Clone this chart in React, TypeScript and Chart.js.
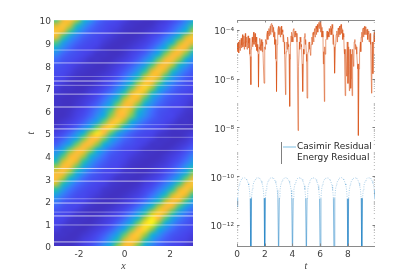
import React, { useEffect, useRef } from "react";
import { Chart, registerables } from "chart.js";
Chart.register(...registerables);

// ---- left panel data ----
const fieldX = [-3, -2.7, -2.4, -2.1, -1.8, -1.5, -1.2, -0.9, -0.6, -0.3, 0, 0.3, 0.6, 0.9, 1.2, 1.5, 1.8, 2.1, 2.4, 2.7, 3];
const fieldT = [0, 0.25, 0.5, 0.75, 1, 1.25, 1.5, 1.75, 2, 2.25, 2.5, 2.75, 3, 3.25, 3.5, 3.75, 4, 4.25, 4.5, 4.75, 5, 5.25, 5.5, 5.75, 6, 6.25, 6.5, 6.75, 7, 7.25, 7.5, 7.75, 8, 8.25, 8.5, 8.75, 9, 9.25, 9.5, 9.75, 10];
const fieldRows = [
  [4,4,4,6,9,12,18,28,46,72,91,89,66,41,26,18,14,11,10,7,5],
  [5,4,4,5,8,10,14,21,34,55,82,93,82,55,34,21,15,12,10,9,6],
  [5,5,4,4,6,8,11,16,25,40,64,88,94,74,47,29,19,14,12,10,8],
  [8,5,5,4,4,6,8,11,16,26,41,66,92,96,72,46,28,19,14,12,10],
  [10,8,5,5,4,4,6,8,11,17,27,43,68,96,99,70,44,27,18,14,11],
  [11,10,7,5,5,4,5,7,9,12,18,29,47,74,98,92,64,40,25,17,13],
  [13,11,10,7,5,4,4,5,7,9,13,19,31,50,77,94,86,62,38,24,16],
  [17,13,11,10,7,5,4,4,5,7,9,13,19,31,50,77,92,86,60,38,24],
  [24,16,13,11,10,7,5,4,4,5,7,9,13,19,31,50,78,92,85,60,37],
  [36,23,16,12,11,9,7,5,4,4,5,7,9,13,20,33,53,80,93,83,57],
  [55,34,21,15,12,10,9,6,5,4,4,5,7,10,14,22,35,57,83,93,80],
  [80,52,32,20,15,12,10,9,6,5,4,4,5,8,10,15,23,37,60,85,93],
  [92,76,49,30,19,14,12,10,8,5,5,4,4,6,8,11,16,25,40,64,88],
  [89,91,71,45,28,18,14,11,10,8,5,5,4,4,6,8,12,17,27,43,68],
  [74,92,88,64,40,25,17,13,11,10,7,5,4,4,5,7,9,13,19,30,49],
  [53,80,93,83,57,35,22,16,12,11,9,6,5,4,4,5,7,10,14,21,34],
  [38,61,86,92,77,50,31,20,14,12,10,8,6,5,4,4,6,8,11,16,25],
  [27,42,67,89,91,71,45,28,18,14,11,10,8,5,5,4,4,6,8,12,17],
  [16,26,41,66,89,91,72,46,28,19,14,12,10,8,5,5,4,4,6,8,12],
  [12,17,27,43,68,92,92,68,43,27,18,14,11,10,8,5,5,4,4,6,9],
  [9,12,18,29,47,74,97,92,64,40,25,17,13,11,10,7,5,4,4,5,7],
  [6,8,11,16,26,41,66,92,95,72,46,28,18,14,12,10,8,5,5,4,4],
  [4,6,8,11,16,26,40,65,90,94,73,46,28,19,14,12,10,8,5,5,4],
  [4,4,6,9,12,18,28,45,71,91,89,67,42,27,18,13,11,10,7,5,4],
  [4,4,5,8,10,15,23,37,60,85,93,78,51,31,20,14,12,10,9,6,5],
  [5,4,4,6,8,12,17,27,43,68,90,90,68,43,27,18,14,11,10,8,5],
  [5,4,4,5,7,9,13,20,31,51,78,93,85,60,37,23,16,13,11,9,7],
  [6,5,4,4,5,8,10,15,22,36,58,84,94,80,52,32,20,15,12,10,9],
  [8,5,5,4,4,6,8,11,16,25,40,64,90,95,74,47,29,19,14,12,10],
  [10,8,5,4,4,4,6,9,12,18,28,45,71,93,91,66,41,26,18,13,11],
  [11,10,7,5,4,4,5,7,9,13,20,31,51,78,93,85,60,37,23,16,13],
  [12,11,9,6,5,4,4,5,7,10,15,22,35,57,83,93,80,53,33,21,15],
  [14,12,10,8,6,5,4,4,6,8,11,16,24,38,62,87,92,76,49,30,19],
  [19,14,12,10,8,5,5,4,4,6,8,11,16,26,41,66,89,91,72,46,28],
  [27,18,14,12,10,8,5,5,4,4,6,9,12,17,28,44,70,90,90,68,43],
  [41,26,18,13,11,10,8,5,4,4,5,7,9,12,18,29,47,74,92,88,64],
  [62,38,24,17,13,11,10,7,5,4,4,5,7,9,13,19,31,50,77,92,86],
  [85,59,36,23,16,13,11,9,7,5,4,4,5,7,10,14,21,33,53,80,93],
  [93,85,60,37,23,16,13,11,9,7,5,4,4,5,7,9,13,19,30,49,76],
  [83,93,80,53,33,21,15,12,10,9,6,5,4,4,5,8,10,15,22,36,58],
  [62,87,92,76,49,30,19,14,12,10,8,5,5,4,4,6,8,11,16,25,40],
];
const seamTimes = [10, 9.42, 8.67, 8.1, 7.5, 7.3, 7.11, 6.72, 6.15, 5.37, 5.18, 4.81, 4.23, 3.43, 3.24, 2.87, 2.09, 1.9, 1.5, 1.33, 0.93, 0.18];
const seamAlphas = [0.4, 0.7, 0.45, 0.6, 0.3, 0.7, 0.4, 0.6, 0.7, 0.3, 0.7, 0.3, 0.35, 0.7, 0.35, 0.65, 0.35, 0.7, 0.35, 0.7, 0.45, 0.7];
const fieldXTicks = [-2, 0, 2];
const fieldTTicks = [0, 1, 2, 3, 4, 5, 6, 7, 8, 9, 10];

// ---- right panel data ----
const residualXTicks = [0, 2, 4, 6, 8];
const residualDecades = [-13, -12, -11, -10, -9, -8, -7, -6, -5, -4];
const labelledDecades = [-12, -10, -8, -6, -4];
const minorMultipliers = [1, 2, 3, 4, 5, 6, 7, 8, 9];
const sampleStep = 0.05;
const casimirLog = [
  -11.25,-10.9,-10.56,-10.38,-10.28,-10.2,-10.14,-10.1,-10.08,-10.07,-10.07,-10.07,-10.08,-10.1,-10.14,-10.2,-10.28,-10.38,-10.56,-10.92,
  -13.6,-10.88,-10.55,-10.38,-10.27,-10.2,-10.14,-10.1,-10.08,-10.07,-10.06,-10.07,-10.08,-10.1,-10.14,-10.2,-10.28,-10.38,-10.57,-10.9,
  -13.6,-10.9,-10.56,-10.39,-10.28,-10.2,-10.15,-10.1,-10.08,-10.07,-10.07,-10.07,-10.08,-10.1,-10.13,-10.2,-10.27,-10.38,-10.56,-10.94,
  -13.6,-10.9,-10.57,-10.38,-10.28,-10.21,-10.14,-10.11,-10.08,-10.07,-10.06,-10.07,-10.08,-10.1,-10.14,-10.2,-10.28,-10.39,-10.56,-10.9,
  -13.6,-10.92,-10.56,-10.38,-10.28,-10.2,-10.14,-10.1,-10.08,-10.07,-10.07,-10.07,-10.09,-10.1,-10.14,-10.2,-10.28,-10.38,-10.56,-10.9,
  -13.6,-10.9,-10.56,-10.38,-10.29,-10.2,-10.14,-10.1,-10.08,-10.06,-10.07,-10.07,-10.08,-10.1,-10.14,-10.21,-10.28,-10.38,-10.57,-10.92,
  -13.6,-10.91,-10.55,-10.38,-10.28,-10.2,-10.14,-10.1,-10.08,-10.07,-10.07,-10.07,-10.08,-10.11,-10.14,-10.2,-10.28,-10.38,-10.56,-10.9,
  -13.6,-10.9,-10.56,-10.39,-10.28,-10.2,-10.15,-10.1,-10.08,-10.07,-10.07,-10.06,-10.08,-10.1,-10.14,-10.2,-10.29,-10.38,-10.56,-10.93,
  -13.6,-10.9,-10.56,-10.38,-10.28,-10.2,-10.14,-10.1,-10.09,-10.07,-10.07,-10.07,-10.08,-10.1,-10.14,-10.2,-10.28,-10.39,-10.55,-10.9,
  -13.6,-10.92,-10.57,-10.38,-10.28,-10.2,-10.14,-10.1,-10.08,-10.07,-10.07,-10.07,-10.08,-10.1,-10.15,-10.2,-10.28,-10.38,-10.56,-10.95,
];
const energyLog = [
  -4.55,-4.8,-4.5,-4.72,-4.42,-4.7,-4.35,-4.62,-4.2,-4.55,-4.25,-4.6,-4.15,-4.5,-4.3,-4.65,-4.25,-4.55,-4.35,-5.1,
  -6.25,-4.7,-4.3,-4.5,-4.1,-4.45,-4.15,-4.5,-4.3,-4.6,-4.9,-6.35,-4.7,-4.35,-4.6,-4.4,-4.65,-4.5,-5.4,-6.19,
  -4.7,-4.4,-4.5,-4.2,-4.05,-4.15,-3.95,-4.05,-3.85,-3.8,-3.74,-3.8,-3.9,-4.0,-4.1,-4.4,-5.2,-6.53,-4.6,-4.0,
  -3.86,-4.0,-3.9,-4.05,-3.85,-4.0,-4.1,-4.2,-4.5,-5.0,-6.66,-4.9,-4.5,-4.3,-4.6,-5.0,-7.14,-4.7,-4.25,-4.1,
  -4.3,-4.0,-3.95,-4.1,-4.05,-4.2,-4.15,-5.4,-8.13,-5.5,-4.5,-4.3,-4.5,-4.6,-5.5,-6.53,-4.8,-4.3,-4.15,-4.4,
  -5.0,-6.8,-5.0,-4.6,-4.5,-4.6,-5.05,-4.6,-4.3,-4.15,-4.1,-4.2,-3.95,-4.05,-3.85,-3.95,-3.78,-3.85,-3.7,-3.75,
  -3.62,-3.75,-3.9,-4.05,-4.3,-4.9,-6.94,-5.0,-4.4,-4.15,-4.05,-4.3,-4.1,-3.95,-4.1,-3.85,-3.95,-3.78,-3.95,-4.2,
  -4.7,-5.78,-4.6,-4.2,-4.05,-4.25,-3.93,-4.0,-3.85,-3.9,-3.78,-3.9,-4.0,-4.15,-4.3,-5.0,-6.7,-4.8,-5.9,-4.5,
  -6.2,-4.7,-6.5,-4.8,-6.4,-5.0,-6.7,-4.8,-5.5,-4.5,-4.4,-4.6,-4.7,-5.0,-5.6,-8.33,-5.6,-4.9,-4.5,-4.3,
  -4.1,-4.0,-3.93,-3.95,-3.86,-3.9,-3.88,-4.0,-3.98,-4.15,-4.05,-4.25,-4.15,-4.6,-6.6,-4.5,-5.8,-4.25,-4.1,-4.0,
];
const energyLowerLog = [
  -4.9,-4.95,-4.85,-4.75,-4.7,-4.8,-4.7,-4.8,-4.75,-5.0,
  -4.8,-4.7,-4.6,-4.7,-4.85,-5.0,-4.8,-4.85,-4.9,-5.4,
  -4.8,-4.6,-4.4,-4.25,-4.2,-4.1,-4.3,-4.6,-5.3,-4.5,
  -4.2,-4.3,-4.2,-4.5,-4.8,-5.2,-4.8,-4.7,-5.2,-4.5,
  -4.5,-4.3,-4.3,-4.5,-5.5,-4.8,-4.7,-5.4,-5.0,-4.6,
  -5.3,-4.9,-4.8,-4.9,-4.6,-4.5,-4.3,-4.2,-4.1,-3.95,
  -4.1,-4.3,-5.4,-4.7,-4.4,-4.4,-4.3,-4.2,-4.2,-4.6,
  -5.2,-4.5,-4.5,-4.3,-4.2,-4.15,-4.4,-4.8,-5.5,-5.3,
  -5.8,-5.5,-6.0,-5.6,-5.2,-4.8,-5.0,-5.4,-5.6,-4.9,
  -4.5,-4.3,-4.2,-4.2,-4.4,-4.5,-4.6,-5.0,-5.0,-4.5,
];
const seriesNames = ["Casimir Residual", "Energy Residual"];

// ---- styling ----
const parula: [number, number, number][] = [
  [62, 38, 168], [71, 68, 235], [62, 111, 255], [39, 150, 235], [18, 177, 214],
  [44, 195, 160], [113, 204, 100], [171, 199, 57], [230, 187, 50], [252, 190, 60], [249, 251, 21],
];
const inkColor = "#404040";
const frameColor = "#8a8a8a";
const tickFont = { family: "'DejaVu Sans'", size: 9 };
const titleFont = { family: "'Liberation Serif'", size: 10, style: "italic" as const };

const superscripts: Record<string, string> = { "-": "⁻", "0": "⁰", "1": "¹", "2": "²", "3": "³", "4": "⁴", "5": "⁵", "6": "⁶", "7": "⁷", "8": "⁸", "9": "⁹" };
const powerLabel = (e: number) => "10" + String(e).split("").map((c) => superscripts[c]).join("");

function colorAt(v: number): [number, number, number] {
  const shaped = v < 0.3 ? v : 0.3 + 0.7 * Math.pow((v - 0.3) / 0.7, 1.3);
  const p = Math.max(0, Math.min(0.9999, shaped)) * (parula.length - 1);
  const i = Math.floor(p), f = p - i;
  const a = parula[i], b = parula[i + 1];
  return [a[0] + (b[0] - a[0]) * f, a[1] + (b[1] - a[1]) * f, a[2] + (b[2] - a[2]) * f];
}

const fieldPlugin = {
  id: "field",
  beforeDatasetsDraw(chart: any) {
    const cols = fieldX.length, rows = fieldT.length;
    const off = document.createElement("canvas");
    off.width = cols; off.height = rows;
    const octx = off.getContext("2d")!;
    const img = octx.createImageData(cols, rows);
    fieldRows.forEach((row, r) => row.forEach((v, c) => {
      const [R, G, B] = colorAt(v / 100);
      const k = ((rows - 1 - r) * cols + c) * 4;
      img.data[k] = R; img.data[k + 1] = G; img.data[k + 2] = B; img.data[k + 3] = 255;
    }));
    octx.putImageData(img, 0, 0);
    const { ctx, scales: { x, y }, chartArea: a } = chart;
    const dx = (fieldX[1] - fieldX[0]) / 2, dt = (fieldT[1] - fieldT[0]) / 2;
    const left = x.getPixelForValue(fieldX[0] - dx), right = x.getPixelForValue(fieldX[cols - 1] + dx);
    const top = y.getPixelForValue(fieldT[rows - 1] + dt), bottom = y.getPixelForValue(fieldT[0] - dt);
    ctx.save();
    ctx.beginPath(); ctx.rect(a.left, a.top, a.right - a.left, a.bottom - a.top); ctx.clip();
    ctx.imageSmoothingEnabled = true;
    ctx.imageSmoothingQuality = "high";
    ctx.drawImage(off, left, top, right - left, bottom - top);
    ctx.restore();
  },
};

const framePlugin = {
  id: "frame",
  afterDatasetsDraw(chart: any) {
    const { ctx, scales: { x, y }, chartArea: a } = chart;
    ctx.save();
    ctx.strokeStyle = frameColor;
    ctx.lineWidth = 1;
    ctx.beginPath();
    ctx.moveTo(a.left, a.top + 0.5); ctx.lineTo(a.right, a.top + 0.5);
    ctx.moveTo(a.left, a.bottom + 0.5); ctx.lineTo(a.right, a.bottom + 0.5);
    x.ticks.forEach((t: any) => {
      const px = Math.round(x.getPixelForValue(t.value)) + 0.5;
      ctx.moveTo(px, a.top); ctx.lineTo(px, a.top + 2.5);
      ctx.moveTo(px, a.bottom); ctx.lineTo(px, a.bottom - 2.5);
    });
    ctx.stroke();
    y.ticks.forEach((t: any) => {
      const py = Math.round(y.getPixelForValue(t.value)) + 0.5;
      const major = t.major;
      ctx.strokeStyle = major ? "rgba(110,110,110,0.9)" : "rgba(140,140,140,0.55)";
      const len = major ? 2.5 : 1.2;
      ctx.beginPath();
      ctx.moveTo(a.left, py); ctx.lineTo(a.left + len, py);
      ctx.moveTo(a.right, py); ctx.lineTo(a.right - len, py);
      ctx.stroke();
    });
    // legend
    const names = chart.data.datasets.map((d: any) => d.label);
    ctx.strokeStyle = "#808080";
    ctx.beginPath(); ctx.moveTo(81.5, 142); ctx.lineTo(81.5, 164); ctx.stroke();
    ctx.strokeStyle = "#a9d5ec";
    ctx.lineWidth = 1.5;
    ctx.beginPath(); ctx.moveTo(83, 147); ctx.lineTo(96, 147); ctx.stroke();
    ctx.fillStyle = "#262626";
    ctx.font = "9px 'DejaVu Sans'";
    ctx.textBaseline = "middle";
    ctx.textAlign = "left";
    ctx.fillText(names[0], 97, 147);
    ctx.fillText(names[1], 97, 158);
    ctx.restore();
  },
};

const fixedBox = (size: number, key: "width" | "height") => (scale: any) => { scale[key] = size; };
const arcFloor = Math.pow(10, -10.95);

export default function App() {
  const leftRef = useRef<HTMLCanvasElement>(null);
  const rightRef = useRef<HTMLCanvasElement>(null);

  useEffect(() => {
    const seamSets = seamTimes.map((t, i) => ({
      data: [{ x: fieldX[0] - 0.2, y: t }, { x: fieldX[fieldX.length - 1] + 0.2, y: t }],
      borderColor: `rgba(255,255,255,${seamAlphas[i]})`,
      borderWidth: 1,
      pointRadius: 0,
    }));
    const left = new Chart(leftRef.current!, {
      type: "line",
      data: { datasets: seamSets },
      plugins: [fieldPlugin],
      options: {
        responsive: false,
        animation: false,
        layout: { padding: { top: 20, right: 7, left: 0, bottom: 0 } },
        plugins: { legend: { display: false }, tooltip: { enabled: false } },
        scales: {
          x: {
            type: "linear", min: -3.1, max: 3.0,
            afterBuildTicks: (s: any) => { s.ticks = fieldXTicks.map((value) => ({ value })); },
            afterFit: fixedBox(31, "height"),
            grid: { display: false, drawTicks: false, tickLength: 0 }, border: { display: false },
            ticks: { font: tickFont, color: inkColor, padding: 3, maxRotation: 0, autoSkip: false },
            title: { display: true, text: "x", font: titleFont, color: inkColor, padding: { top: 0, bottom: 5 } },
          },
          y: {
            type: "linear", min: 0, max: 10,
            afterBuildTicks: (s: any) => { s.ticks = fieldTTicks.map((value) => ({ value })); },
            afterFit: fixedBox(54, "width"),
            grid: { display: false, drawTicks: false, tickLength: 0 }, border: { display: false },
            ticks: { font: tickFont, color: inkColor, padding: 3, autoSkip: false, labelOffset: 2 },
            title: { display: true, text: "t", font: titleFont, color: inkColor, padding: { top: 25, bottom: 0 } },
          },
        },
      },
    } as any);

    const times = energyLog.map((_, i) => i * sampleStep);
    const energyPoints: { x: number; y: number }[] = [];
    energyLog.forEach((v, i) => {
      energyPoints.push({ x: times[i], y: Math.pow(10, v) });
      if (i % 2 === 0) energyPoints.push({ x: times[i] + sampleStep / 2, y: Math.pow(10, energyLowerLog[i / 2]) });
    });
    const right = new Chart(rightRef.current!, {
      type: "line",
      data: {
        datasets: [
          {
            label: seriesNames[0],
            data: times.map((x, i) => ({ x, y: Math.pow(10, casimirLog[i]) })),
            borderColor: "rgba(0,114,189,0.6)", borderWidth: 0.8, pointRadius: 0,
            segment: {
              borderDash: (c: any) => (c.p0.parsed.y > arcFloor && c.p1.parsed.y > arcFloor ? [1, 1.4] : undefined),
              borderColor: (c: any) => (c.p0.parsed.y > arcFloor && c.p1.parsed.y > arcFloor ? "rgba(0,114,189,0.42)" : undefined),
            },
          },
          {
            label: seriesNames[1],
            data: energyPoints,
            borderColor: "rgba(217,83,25,0.72)", borderWidth: 0.8, pointRadius: 0,
          },
        ],
      },
      plugins: [framePlugin],
      options: {
        responsive: false,
        animation: false,
        layout: { padding: { top: 20, right: 40, left: 0, bottom: 0 } },
        plugins: { legend: { display: false }, tooltip: { enabled: false } },
        scales: {
          x: {
            type: "linear", min: 0, max: 9.95,
            afterBuildTicks: (s: any) => { s.ticks = residualXTicks.map((value) => ({ value })); },
            afterFit: fixedBox(31, "height"),
            grid: { display: false, drawTicks: false, tickLength: 0 }, border: { display: false },
            ticks: { font: tickFont, color: inkColor, padding: 3, maxRotation: 0, autoSkip: false },
            title: { display: true, text: "t", font: titleFont, color: inkColor, padding: { top: 0, bottom: 5 } },
          },
          y: {
            type: "logarithmic", min: Math.pow(10, -12.86), max: Math.pow(10, -3.6),
            afterBuildTicks: (s: any) => {
              const list: any[] = [];
              residualDecades.forEach((d) => minorMultipliers.forEach((m) => {
                const value = m * Math.pow(10, d);
                if (value >= s.min && value <= s.max) list.push({ value, major: m === 1 && labelledDecades.includes(d) });
              }));
              s.ticks = list;
            },
            afterFit: fixedBox(37, "width"),
            grid: { display: false, drawTicks: false, tickLength: 0 }, border: { display: false },
            ticks: {
              font: tickFont, color: inkColor, padding: 3, autoSkip: false, labelOffset: 2,
              callback: (value: number) => {
                const e = Math.round(Math.log10(value));
                return labelledDecades.includes(e) && Math.abs(Math.log10(value) - e) < 1e-6 ? powerLabel(e) : "";
              },
            },
          },
        },
      },
    } as any);
    return () => { left.destroy(); right.destroy(); };
  }, []);

  return (
    <div style={{ position: "absolute", left: 0, top: 0, width: 415, height: 277, background: "#fff", overflow: "hidden" }}>
      <canvas ref={leftRef} width={200} height={277} style={{ position: "absolute", left: 0, top: 0, display: "block" }} />
      <canvas ref={rightRef} width={215} height={277} style={{ position: "absolute", left: 200, top: 0, display: "block" }} />
    </div>
  );
}
